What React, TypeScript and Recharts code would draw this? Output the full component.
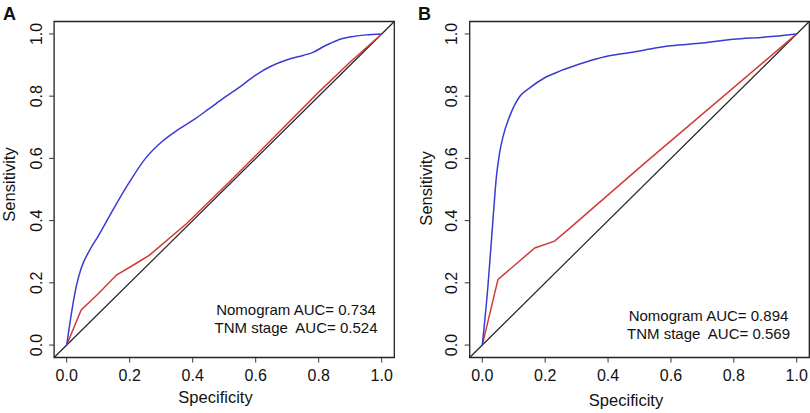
import React from 'react';
import { LineChart, Line, XAxis, YAxis, ReferenceLine, ReferenceArea, Label } from 'recharts';

// shared axis setup (R style: 4% padding around 0..1)
const ticks = [0, 0.2, 0.4, 0.6, 0.8, 1];
const domain: [number, number] = [-0.04, 1.04];

// Panel A - nomogram ROC
const nomoAx = [0, 0.015, 0.03, 0.046, 0.073, 0.1, 0.15, 0.2, 0.25, 0.3, 0.35, 0.4, 0.45, 0.5, 0.55, 0.6, 0.65, 0.7, 0.75, 0.78, 0.82, 0.86, 0.9, 0.95, 1];
const nomoAy = [0, 0.102, 0.187, 0.247, 0.305, 0.35, 0.44, 0.525, 0.6, 0.652, 0.69, 0.722, 0.758, 0.795, 0.83, 0.868, 0.897, 0.917, 0.931, 0.94, 0.962, 0.98, 0.99, 0.997, 1];
// Panel A - TNM stage ROC
const tnmAx = [0, 0.046, 0.1, 0.158, 0.221, 0.263, 0.38, 0.512, 0.65, 0.8, 0.9, 1];
const tnmAy = [0, 0.113, 0.165, 0.225, 0.263, 0.289, 0.39, 0.52, 0.66, 0.813, 0.91, 1];

// Panel B - nomogram ROC
const nomoBx = [0, 0.018, 0.034, 0.045, 0.055, 0.066, 0.087, 0.119, 0.15, 0.2, 0.25, 0.3, 0.35, 0.4, 0.45, 0.5, 0.55, 0.6, 0.7, 0.8, 0.9, 1];
const nomoBy = [0, 0.189, 0.403, 0.542, 0.617, 0.67, 0.735, 0.799, 0.826, 0.86, 0.882, 0.9, 0.916, 0.929, 0.937, 0.945, 0.955, 0.962, 0.971, 0.983, 0.99, 1];
// Panel B - TNM stage ROC
const tnmBx = [0, 0.05, 0.167, 0.23, 0.273, 0.511, 1];
const tnmBy = [0, 0.211, 0.312, 0.334, 0.371, 0.58, 1];

const legendA = ['Nomogram AUC= 0.734', 'TNM stage  AUC= 0.524'];
const legendB = ['Nomogram AUC= 0.894', 'TNM stage  AUC= 0.569'];

const toPoints = (xs: number[], ys: number[]) => xs.map((x, i) => ({ x, y: ys[i] }));

const FONT = "'Liberation Sans', Arial, Helvetica, sans-serif";
const INK = '#111';
const BLUE = '#3b3bd2';
const RED = '#d23a3a';
const W = 405;
const H = 413;
const PLOT_TOP = 21.5;
const PLOT_H = 336;

const YTick = (props: any) => {
  const { x, y, payload } = props;
  return (
    <text
      x={x}
      y={y}
      transform={`rotate(-90 ${x} ${y})`}
      textAnchor="middle"
      dominantBaseline="central"
      fontSize={16}
      fontFamily={FONT}
      fill={INK}
    >
      {Number(payload.value).toFixed(1)}
    </text>
  );
};

type PanelProps = {
  left: number;
  plotLeft: number;
  plotW: number;
  nomo: { x: number; y: number }[];
  tnm: { x: number; y: number }[];
  letter: string;
  letterX: number;
  legend: string[];
  legendX: number;
  legendY: number;
  xTitle: [number, number];
  yTitle: [number, number];
};

function Panel(p: PanelProps) {
  const margin = { top: PLOT_TOP, left: p.plotLeft - 40, right: W - p.plotLeft - p.plotW, bottom: 0 };
  return (
    <div style={{ position: 'absolute', left: p.left, top: 0, width: W, height: H }}>
      <LineChart width={W} height={H} margin={margin}>
        <XAxis
          type="number"
          dataKey="x"
          domain={domain}
          allowDataOverflow
          ticks={ticks}
          interval={0}
          tickFormatter={(v: number) => v.toFixed(1)}
          axisLine={false}
          tickLine={{ stroke: '#333' }}
          tickSize={5}
          tickMargin={7}
          height={H - PLOT_TOP - PLOT_H}
          tick={{ fontSize: 16, fill: INK, fontFamily: FONT }}
        >
          <Label
            content={() => (
              <text x={p.xTitle[0]} y={p.xTitle[1]} textAnchor="middle" fontSize={16.5} fontFamily={FONT} fill={INK}>
                Specificity
              </text>
            )}
          />
        </XAxis>
        <YAxis
          type="number"
          dataKey="y"
          domain={domain}
          allowDataOverflow
          ticks={ticks}
          interval={0}
          axisLine={false}
          tickLine={{ stroke: '#333' }}
          tickSize={5}
          tickMargin={13}
          width={40}
          tick={<YTick />}
        >
          <Label
            content={() => (
              <text
                x={p.yTitle[0]}
                y={p.yTitle[1]}
                transform={`rotate(-90 ${p.yTitle[0]} ${p.yTitle[1]})`}
                textAnchor="middle"
                dominantBaseline="central"
                fontSize={16.5}
                fontFamily={FONT}
                fill={INK}
              >
                Sensitivity
              </text>
            )}
          />
        </YAxis>
        <ReferenceLine
          segment={[{ x: -0.04, y: -0.04 }, { x: 1.04, y: 1.04 }]}
          stroke="#222"
          strokeWidth={1.2}
          ifOverflow="visible"
        />
        <Line data={p.tnm} dataKey="y" type="linear" stroke={RED} strokeWidth={1.5} dot={false} isAnimationActive={false} />
        <Line data={p.nomo} dataKey="y" type="monotone" stroke={BLUE} strokeWidth={1.5} dot={false} isAnimationActive={false} />
        <ReferenceArea x1={-0.04} x2={1.04} y1={-0.04} y2={1.04} fill="none" fillOpacity={0} stroke="#222" strokeWidth={1.3} ifOverflow="visible" />
      </LineChart>
      <svg width={W} height={H} style={{ position: 'absolute', left: 0, top: 0, pointerEvents: 'none' }}>
        <text x={p.letterX} y={20} fontSize={18} fontWeight="bold" fontFamily={FONT} fill="#111">
          {p.letter}
        </text>
        {p.legend.map((t, i) => (
          <text
            key={t}
            x={p.legendX}
            y={p.legendY + i * 18}
            textAnchor="middle"
            fontSize={15}
            fontFamily={FONT}
            fill={INK}
            style={{ whiteSpace: 'pre' }}
          >
            {t}
          </text>
        ))}
      </svg>
    </div>
  );
}

export default function App() {
  return (
    <div style={{ position: 'absolute', left: 0, top: 0, width: 810, height: 413, background: '#fff' }}>
      <Panel
        left={0}
        plotLeft={54.1}
        plotW={340.2}
        nomo={toPoints(nomoAx, nomoAy)}
        tnm={toPoints(tnmAx, tnmAy)}
        letter="A"
        letterX={3}
        legend={legendA}
        legendX={296}
        legendY={315}
        xTitle={[215.5, 402.5]}
        yTitle={[9.2, 184.5]}
      />
      <Panel
        left={405}
        plotLeft={64.7}
        plotW={339.6}
        nomo={toPoints(nomoBx, nomoBy)}
        tnm={toPoints(tnmBx, tnmBy)}
        letter="B"
        letterX={13}
        legend={legendB}
        legendX={303.5}
        legendY={321}
        xTitle={[221, 406]}
        yTitle={[20.8, 188.5]}
      />
    </div>
  );
}
